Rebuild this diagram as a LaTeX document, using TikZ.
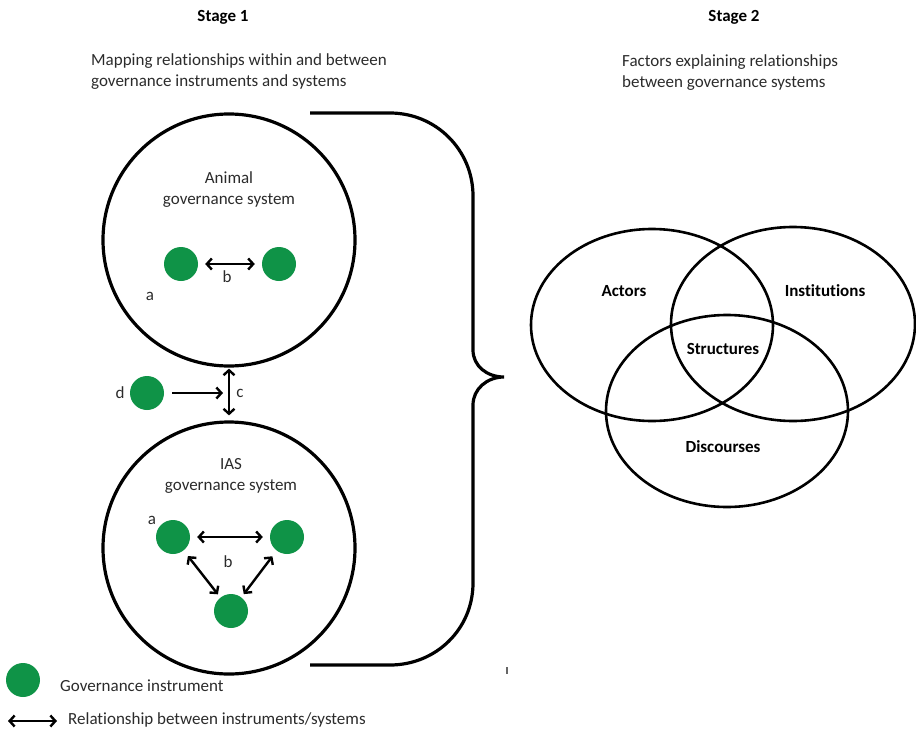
\documentclass[tikz,border=0pt]{standalone}
\usepackage{fontspec}
\setmainfont{Carlito}[Ligatures=NoCommon]
\usepackage{tikz}
\usepackage{xcolor}
\usetikzlibrary{positioning,arrows.meta,calc}
\definecolor{instr}{HTML}{0F9347}
\definecolor{ink}{HTML}{2B2B2B}

\begin{document}
\begin{tikzpicture}[x=1pt,y=-1pt,
    every node/.style={font=\fontsize{17}{21}\selectfont,text=ink,inner sep=0pt},
    instrument/.style={circle,fill=instr,minimum size=34pt},
    govsystem/.style={circle,draw=black,line width=3.2pt,minimum size=252pt},
    rel/.style={{Straight Barb[length=5pt,width=11pt]}-{Straight Barb[length=5pt,width=11pt]},line width=2.4pt,shorten <=7pt,shorten >=7pt},
    onerel/.style={-{Straight Barb[length=5pt,width=11pt]},line width=2.4pt},
    venn/.style={draw=black,line width=2.6pt},
    heading/.style={font=\fontsize{17}{21}\selectfont\bfseries,text=black}]
      \useasboundingbox (0,0) rectangle (916,731);
      % Headings
      \node[heading] (st1) at (223,17) {Stage 1};
      \node[anchor=west,align=left] (st1txt) at (91,72) {Mapping relationships within and between\\governance instruments and systems};
      \node[heading] (st2) at (734,17) {Stage 2};
      \node[anchor=west,align=left] (st2txt) at (622,73) {Factors explaining relationships\\between governance systems};
      % Governance systems
      \node[govsystem] (animal) at (229,240) {};
      \node[govsystem] (ias) at (229,548) {};
      \node[align=center] at (229,190) {Animal\\governance system};
      \node[align=center] at (231,476) {IAS\\governance system};
      % Instruments in the animal system
      \node[instrument] (ani1) at (181,264) {};
      \node[instrument] (ani2) at (279,264) {};
      \draw[rel] (ani1) -- (ani2);
      \node at (227,277) {b};
      \node at (150,296) {a};
      % Instruments in the IAS system
      \node[instrument] (ias1) at (173,537) {};
      \node[instrument] (ias2) at (287,537) {};
      \node[instrument] (ias3) at (231,611) {};
      \draw[rel] (ias1) -- (ias2);
      \draw[rel,shorten >=4pt] (ias1) -- (ias3);
      \draw[rel,shorten >=4pt] (ias2) -- (ias3);
      \node at (152,520) {a};
      \node at (228,562) {b};
      % Between the systems
      \draw[rel,shorten <=1pt,shorten >=5pt] (animal.south) -- (ias.north);
      \coordinate (cjoin) at ($(animal.south)!0.5!(ias.north)$);
      \node at (240,393) {c};
      \node[instrument] (ext) at (147,393) {};
      \node at (120,393) {d};
      \draw[onerel,shorten <=8pt] (ext) -- ([xshift=-6pt]cjoin |- ext);
      % Brace
      \draw[line width=3.2pt]
         (310,113) -- (390,113) .. controls (436,113) and (473,150) .. (473,196)
         -- (473,350) .. controls (473,366) and (487,377) .. (504,377)
         .. controls (487,377) and (473,389) .. (473,405)
         -- (473,583) .. controls (473,629) and (436,665) .. (390,665) -- (310,665);
      \draw[black!60,line width=1.2pt] (507,667) -- (507,674);
      % Venn diagram
      \draw[venn] (652,325) ellipse [x radius=121, y radius=96];
      \draw[venn] (793,324) ellipse [x radius=122, y radius=97];
      \draw[venn] (727,411) ellipse [x radius=121, y radius=96];
      \node[heading] (actors) at (624,291) {Actors};
      \node[heading] (institutions) at (825,291) {Institutions};
      \node[heading] (structures) at (723,349) {Structures};
      \node[heading] (discourses) at (723,447) {Discourses};
      % Legend
      \node[instrument] (legdot) at (23,680) {};
      \node[anchor=west] at (60,686) {Governance instrument};
      \coordinate (legA) at (8,721);
      \coordinate (legB) at (57,721);
      \draw[rel,shorten <=0pt,shorten >=0pt] (legA) -- (legB);
      \node[anchor=west] at (68,720) {Relationship between instruments/systems};
    \end{tikzpicture}
\end{document}
